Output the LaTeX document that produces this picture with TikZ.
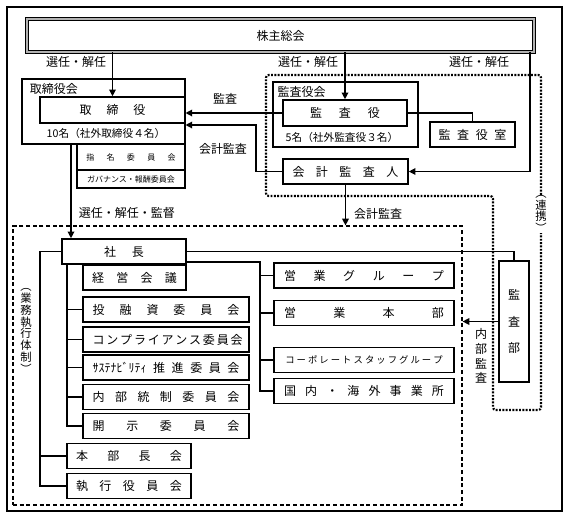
\documentclass[tikz,border=0pt]{standalone}
\usepackage{fontspec}
\setmainfont{Noto Sans CJK JP}
\usetikzlibrary{arrows.meta}

\newcommand{\spr}[2]{\makebox[#1][s]{#2}}

\tikzset{every picture/.style={line width=0.75pt}}
\tikzset{
  box/.style={draw, line width=1.2pt, inner sep=0pt, font=\small},
  frame/.style={draw, line width=0.8pt, inner sep=0pt},
  dblbox/.style={draw, line width=0.6pt, double=gray!60, double distance=1.4pt, inner sep=0pt, font=\small},
  conn/.style={line width=0.9pt},
  arr/.style={line width=0.9pt, -{Triangle[length=5pt,width=5pt]}},
  lbl/.style={inner sep=0.75pt, font=\small},
  vlbl/.style={inner sep=0pt, align=center, font=\fontsize{8.5}{8.8}\selectfont},
}

\begin{document}
\begin{tikzpicture}[x=0.75pt,y=0.75pt,yscale=-1,xscale=1]
\useasboundingbox (0,0) rectangle (569,518);

%Outer frame
\draw[line width=0.9pt] (7,7) rectangle (562,511);

%Shareholders
\node[dblbox, minimum width=380.25pt, minimum height=24.75pt] (kabunushi) at (280.5,35.5) {株主総会};

%Board
\node[frame, minimum width=122.25pt, minimum height=48.75pt] (torikai) at (103.5,111.5) {};
\node[lbl] (torikailbl) at (54,89) {取締役会};
\node[box, minimum width=108.75pt, minimum height=19.5pt] (torishimari) at (112.5,110) {\spr{49.5pt}{取 締 役}};
\node[lbl, font=\footnotesize] (torinin) at (106,133) {10名（社外取締役４名）};
\node[box, line width=1pt, minimum width=81pt, minimum height=19.5pt, font=\fontsize{6}{7}\selectfont] (shimei) at (131,157) {\spr{67pt}{指 名 委 員 会}};
\node[box, line width=1pt, minimum width=81pt, minimum height=13.5pt, font=\fontsize{6}{7}\selectfont] (gov) at (131,179) {ガバナンス・報酬委員会};

%Auditors
\node[frame, minimum width=108.75pt, minimum height=48.75pt] (kansakai) at (345.5,114.5) {};
\node[lbl] (kansakailbl) at (301.5,92) {監査役会};
\node[box, minimum width=93pt, minimum height=19.5pt] (kansayaku) at (345,113) {\spr{52.5pt}{監 査 役}};
\node[lbl, font=\footnotesize] (kansanin) at (342,137) {5名（社外監査役３名）};
\node[box, minimum width=63.75pt, minimum height=18.75pt] (shitsu) at (472.5,134.5) {\spr{51pt}{監 査 役 室}};
\node[box, minimum width=93.75pt, minimum height=18.75pt] (kaikei) at (345.5,171.5) {\spr{79.5pt}{会 計 監 査 人}};

%Cooperation area (dotted)
\node[vlbl] (renkei) at (541,214) {︵\\連\\携\\︶};
\draw[line width=1.6pt, dash pattern={on 1.4pt off 1.1pt}, rounded corners=2pt] (renkei.north) -- (541,75) -- (266,75) -- (266,196) -- (493,196) -- (493,410) -- (541,410) -- (renkei.south);

%Execution area (dashed)
\node[draw, line width=0.9pt, dash pattern={on 3pt off 2pt}, minimum width=336.75pt, minimum height=209.25pt] (gyomu) at (237.5,365.5) {};
\node[vlbl] (gyomulbl) at (26,331) {︵\\業\\務\\執\\行\\体\\制\\︶};

\node[box, minimum width=93pt, minimum height=18.75pt] (shacho) at (124,251.5) {\spr{30pt}{社 長}};
\node[box, minimum width=77.25pt, minimum height=18.75pt] (keiei) at (134.5,277.5) {\spr{63.75pt}{経 営 会 議}};
\node[box, minimum width=124.5pt, minimum height=18.75pt] (toyushi) at (166,309.5) {\spr{110pt}{投 融 資 委 員 会}};
\node[box, minimum width=124.5pt, minimum height=18.75pt] (compliance) at (166,339.5) {\spr{110pt}{コ ン プ ラ イ ア ン ス 委 員 会}};
\node[box, minimum width=124.5pt, minimum height=18.75pt] (sustain) at (166,367.5) {\spr{110pt}{ｻｽﾃﾅﾋﾞﾘﾃｨ 推 進 委 員 会}};
\node[box, minimum width=124.5pt, minimum height=18.75pt] (naibu) at (166,397) {\spr{110pt}{内 部 統 制 委 員 会}};
\node[box, minimum width=124.5pt, minimum height=18.75pt] (kaiji) at (166,426) {\spr{110pt}{開 示 委 員 会}};
\node[box, minimum width=93pt, minimum height=18.75pt] (honbucho) at (129,456) {\spr{79.5pt}{本 部 長 会}};
\node[box, minimum width=93pt, minimum height=18.75pt] (shikko) at (129,486) {\spr{79.5pt}{執 行 役 員 会}};

\node[box, minimum width=135pt, minimum height=18.75pt] (eigyoG) at (364,275.5) {\spr{120pt}{営 業 グ ル ー プ}};
\node[box, minimum width=135pt, minimum height=18.75pt] (eigyoH) at (364,313) {\spr{120pt}{営 業 本 部}};
\node[box, minimum width=135pt, minimum height=18.75pt, font=\scriptsize] (corp) at (364,360) {\spr{118pt}{コ ー ポ レ ー ト ス タ ッ フ グ ル ー プ}};
\node[box, minimum width=135pt, minimum height=18.75pt] (kokunai) at (364,391) {\spr{120pt}{国 内 ・ 海 外 事 業 所}};

\node[box, minimum width=22.5pt, minimum height=90.75pt, align=center, font=\fontsize{9}{20}\selectfont] (kansabu) at (514,321.5) {監\\査\\部};

%Labels
\node[lbl] (sen1) at (76,62) {選任・解任};
\node[lbl] (sen2) at (308,62) {選任・解任};
\node[lbl] (sen3) at (479,62) {選任・解任};
\node[lbl] (kansalbl) at (225,99) {監査};
\node[lbl] (kaikeilbl) at (223,149) {会計監査};
\node[lbl] (kantokulbl) at (127,213) {選任・解任・監督};
\node[lbl] (kaikei2lbl) at (378,214) {会計監査};
\node[vlbl, font=\small] (naibulbl) at (481,356) {内\\部\\監\\査};

%Connectors
\coordinate (rline) at (530,0);
\coordinate (kbend) at (256,125);
\coordinate (kantoku) at (71,144);
\coordinate (rtrunk) at (260,262);
\coordinate (ltrunk) at (67,264);
\coordinate (otrunk) at (40,252);

\draw[arr] (kabunushi.south -| torishimari.north) -- (torishimari.north);
\draw[arr] (kabunushi.south -| kansayaku.north) -- (kansayaku.north);
\draw[arr] (kabunushi.south -| rline) |- (kaikei.east);
\draw[arr] (kansayaku.west) -- (kansayaku.west -| torikai.east);
\draw[arr] (kaikei.west) -| (kbend) -- (kbend -| torikai.east);
\draw[conn] (kansayaku.east) -| (shitsu.north);
\draw[arr] (kantoku) -- (kantoku |- shacho.north);
\draw[arr] (kaikei.south) -- (kaikei.south |- gyomu.north);
\draw[conn] (shacho.east) -| (kansabu.north);
\draw[arr] (kansabu.west) -- (kansabu.west -| gyomu.east);

\draw[conn] (rtrunk -| shacho.east) -- (rtrunk) |- (kokunai.west);
\foreach \n in {eigyoG,eigyoH,corp}
  \draw[conn] (rtrunk |- \n.west) -- (\n.west);

\draw[conn] (ltrunk |- shacho.south) |- (kaiji.west);
\foreach \n in {toyushi,compliance,sustain,naibu}
  \draw[conn] (ltrunk |- \n.west) -- (\n.west);

\draw[conn] (shacho.west) -| (otrunk |- shikko.west) -- (shikko.west);
\draw[conn] (otrunk |- honbucho.west) -- (honbucho.west);

\end{tikzpicture}
\end{document}
